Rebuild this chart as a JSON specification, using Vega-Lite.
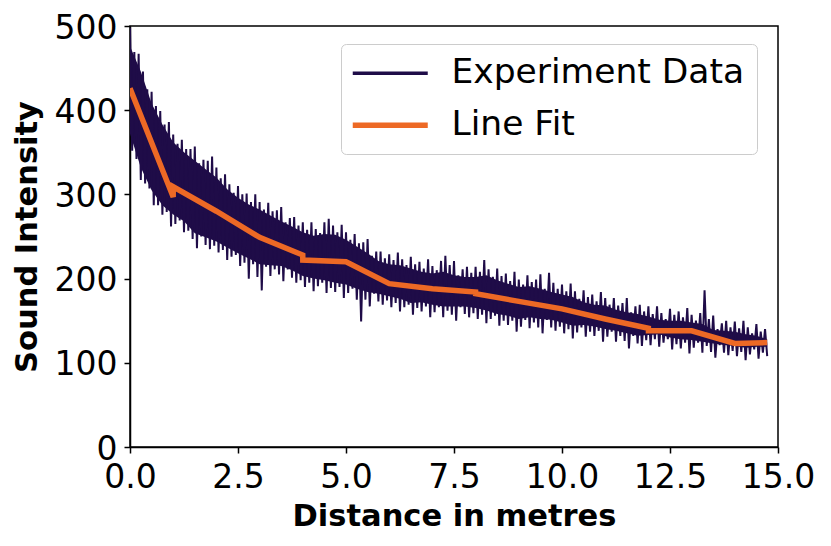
{
  "$schema": "https://vega.github.io/schema/vega-lite/v6.json",
  "width": 648,
  "height": 421,
  "autosize": "none",
  "padding": {"left": 130, "top": 26, "right": 53, "bottom": 99},
  "datasets": {
    "band": [
      {"x": 0, "y": 372, "y2": 476}, {"x": 0.25, "y": 332, "y2": 446}, {"x": 0.5, "y": 305, "y2": 408}, {"x": 0.75, "y": 287, "y2": 383},
      {"x": 1, "y": 276, "y2": 362}, {"x": 1.25, "y": 268, "y2": 350}, {"x": 1.5, "y": 254, "y2": 340}, {"x": 1.75, "y": 249, "y2": 330},
      {"x": 2, "y": 244, "y2": 320}, {"x": 2.25, "y": 237, "y2": 306}, {"x": 2.5, "y": 230, "y2": 296}, {"x": 2.75, "y": 224, "y2": 288},
      {"x": 3, "y": 217, "y2": 282}, {"x": 3.25, "y": 216, "y2": 275}, {"x": 3.5, "y": 215, "y2": 268}, {"x": 3.75, "y": 210, "y2": 262},
      {"x": 4, "y": 203, "y2": 255}, {"x": 4.25, "y": 200, "y2": 251}, {"x": 4.5, "y": 198, "y2": 253}, {"x": 4.75, "y": 195, "y2": 252},
      {"x": 5, "y": 193, "y2": 246}, {"x": 5.25, "y": 188, "y2": 238}, {"x": 5.5, "y": 184, "y2": 230}, {"x": 5.75, "y": 182, "y2": 221},
      {"x": 6, "y": 179, "y2": 217}, {"x": 6.25, "y": 176, "y2": 216}, {"x": 6.5, "y": 171, "y2": 212}, {"x": 6.75, "y": 172, "y2": 208},
      {"x": 7, "y": 169, "y2": 206}, {"x": 7.25, "y": 167, "y2": 208}, {"x": 7.5, "y": 167, "y2": 204}, {"x": 7.75, "y": 167, "y2": 202},
      {"x": 8, "y": 165, "y2": 202}, {"x": 8.25, "y": 162, "y2": 204}, {"x": 8.5, "y": 158, "y2": 198}, {"x": 8.75, "y": 156, "y2": 194},
      {"x": 9, "y": 152, "y2": 190}, {"x": 9.25, "y": 154, "y2": 191}, {"x": 9.5, "y": 152, "y2": 188}, {"x": 9.75, "y": 151, "y2": 184},
      {"x": 10, "y": 148, "y2": 181}, {"x": 10.25, "y": 144, "y2": 178}, {"x": 10.5, "y": 145, "y2": 172}, {"x": 10.75, "y": 143, "y2": 169},
      {"x": 11, "y": 140, "y2": 168}, {"x": 11.25, "y": 138, "y2": 163}, {"x": 11.5, "y": 135, "y2": 160}, {"x": 11.75, "y": 132, "y2": 158},
      {"x": 12, "y": 133, "y2": 155}, {"x": 12.25, "y": 134, "y2": 151}, {"x": 12.5, "y": 130, "y2": 150}, {"x": 12.75, "y": 128, "y2": 150},
      {"x": 13, "y": 127, "y2": 148}, {"x": 13.25, "y": 125, "y2": 146}, {"x": 13.5, "y": 123, "y2": 139}, {"x": 13.75, "y": 121, "y2": 138},
      {"x": 14, "y": 120, "y2": 137}, {"x": 14.25, "y": 118, "y2": 134}, {"x": 14.5, "y": 119, "y2": 132}, {"x": 14.75, "y": 119, "y2": 128}
    ],
    "exp": [
      {"x": 0, "y": 498}, {"x": 0.05, "y": 352}, {"x": 0.1, "y": 469}, {"x": 0.15, "y": 342}, {"x": 0.2, "y": 467}, {"x": 0.25, "y": 317}, {"x": 0.3, "y": 446}, {"x": 0.35, "y": 313}, {"x": 0.4, "y": 425}, {"x": 0.45, "y": 307},
      {"x": 0.5, "y": 422}, {"x": 0.55, "y": 287}, {"x": 0.6, "y": 405}, {"x": 0.65, "y": 287}, {"x": 0.7, "y": 399}, {"x": 0.75, "y": 276}, {"x": 0.8, "y": 383}, {"x": 0.85, "y": 279}, {"x": 0.9, "y": 386}, {"x": 0.95, "y": 262},
      {"x": 1, "y": 371}, {"x": 1.05, "y": 265}, {"x": 1.1, "y": 360}, {"x": 1.15, "y": 269}, {"x": 1.2, "y": 365}, {"x": 1.25, "y": 255}, {"x": 1.3, "y": 354}, {"x": 1.35, "y": 257}, {"x": 1.4, "y": 354}, {"x": 1.45, "y": 247},
      {"x": 1.5, "y": 357}, {"x": 1.55, "y": 236}, {"x": 1.6, "y": 337}, {"x": 1.65, "y": 250}, {"x": 1.7, "y": 341}, {"x": 1.75, "y": 240}, {"x": 1.8, "y": 340}, {"x": 1.85, "y": 235}, {"x": 1.9, "y": 345}, {"x": 1.95, "y": 239},
      {"x": 2, "y": 332}, {"x": 2.05, "y": 231}, {"x": 2.1, "y": 319}, {"x": 2.15, "y": 234}, {"x": 2.2, "y": 324}, {"x": 2.25, "y": 222}, {"x": 2.3, "y": 312}, {"x": 2.35, "y": 226}, {"x": 2.4, "y": 302}, {"x": 2.45, "y": 228},
      {"x": 2.5, "y": 310}, {"x": 2.55, "y": 215}, {"x": 2.6, "y": 300}, {"x": 2.65, "y": 219}, {"x": 2.7, "y": 301}, {"x": 2.75, "y": 200}, {"x": 2.8, "y": 291}, {"x": 2.85, "y": 217}, {"x": 2.9, "y": 300}, {"x": 2.95, "y": 202},
      {"x": 3, "y": 291}, {"x": 3.05, "y": 186}, {"x": 3.1, "y": 282}, {"x": 3.15, "y": 214}, {"x": 3.2, "y": 290}, {"x": 3.25, "y": 203}, {"x": 3.3, "y": 280}, {"x": 3.35, "y": 211}, {"x": 3.4, "y": 281}, {"x": 3.45, "y": 205},
      {"x": 3.5, "y": 285}, {"x": 3.55, "y": 197}, {"x": 3.6, "y": 267}, {"x": 3.65, "y": 211}, {"x": 3.7, "y": 272}, {"x": 3.75, "y": 201}, {"x": 3.8, "y": 273}, {"x": 3.85, "y": 195}, {"x": 3.9, "y": 263}, {"x": 3.95, "y": 198},
      {"x": 4, "y": 267}, {"x": 4.05, "y": 190}, {"x": 4.1, "y": 258}, {"x": 4.15, "y": 195}, {"x": 4.2, "y": 267}, {"x": 4.25, "y": 185}, {"x": 4.3, "y": 259}, {"x": 4.35, "y": 191}, {"x": 4.4, "y": 254}, {"x": 4.45, "y": 195},
      {"x": 4.5, "y": 267}, {"x": 4.55, "y": 183}, {"x": 4.6, "y": 271}, {"x": 4.65, "y": 189}, {"x": 4.7, "y": 263}, {"x": 4.75, "y": 184}, {"x": 4.8, "y": 255}, {"x": 4.85, "y": 190}, {"x": 4.9, "y": 264}, {"x": 4.95, "y": 177},
      {"x": 5, "y": 255}, {"x": 5.05, "y": 183}, {"x": 5.1, "y": 246}, {"x": 5.15, "y": 188}, {"x": 5.2, "y": 253}, {"x": 5.25, "y": 175}, {"x": 5.3, "y": 242}, {"x": 5.35, "y": 149}, {"x": 5.4, "y": 243}, {"x": 5.45, "y": 175},
      {"x": 5.5, "y": 247}, {"x": 5.55, "y": 167}, {"x": 5.6, "y": 227}, {"x": 5.65, "y": 182}, {"x": 5.7, "y": 232}, {"x": 5.75, "y": 173}, {"x": 5.8, "y": 232}, {"x": 5.85, "y": 169}, {"x": 5.9, "y": 224}, {"x": 5.95, "y": 174},
      {"x": 6, "y": 229}, {"x": 6.05, "y": 166}, {"x": 6.1, "y": 222}, {"x": 6.15, "y": 171}, {"x": 6.2, "y": 231}, {"x": 6.25, "y": 161}, {"x": 6.3, "y": 223}, {"x": 6.35, "y": 166}, {"x": 6.4, "y": 216}, {"x": 6.45, "y": 169},
      {"x": 6.5, "y": 226}, {"x": 6.55, "y": 157}, {"x": 6.6, "y": 217}, {"x": 6.65, "y": 165}, {"x": 6.7, "y": 220}, {"x": 6.75, "y": 161}, {"x": 6.8, "y": 212}, {"x": 6.85, "y": 167}, {"x": 6.9, "y": 223}, {"x": 6.95, "y": 154},
      {"x": 7, "y": 215}, {"x": 7.05, "y": 160}, {"x": 7.1, "y": 210}, {"x": 7.15, "y": 166}, {"x": 7.2, "y": 221}, {"x": 7.25, "y": 154}, {"x": 7.3, "y": 227}, {"x": 7.35, "y": 162}, {"x": 7.4, "y": 216}, {"x": 7.45, "y": 157},
      {"x": 7.5, "y": 221}, {"x": 7.55, "y": 150}, {"x": 7.6, "y": 204}, {"x": 7.65, "y": 166}, {"x": 7.7, "y": 211}, {"x": 7.75, "y": 158}, {"x": 7.8, "y": 214}, {"x": 7.85, "y": 154}, {"x": 7.9, "y": 207}, {"x": 7.95, "y": 159},
      {"x": 8, "y": 214}, {"x": 8.05, "y": 152}, {"x": 8.1, "y": 208}, {"x": 8.15, "y": 157}, {"x": 8.2, "y": 222}, {"x": 8.25, "y": 147}, {"x": 8.3, "y": 211}, {"x": 8.35, "y": 152}, {"x": 8.4, "y": 202}, {"x": 8.45, "y": 156},
      {"x": 8.5, "y": 212}, {"x": 8.55, "y": 144}, {"x": 8.6, "y": 203}, {"x": 8.65, "y": 150}, {"x": 8.7, "y": 206}, {"x": 8.75, "y": 145}, {"x": 8.8, "y": 197}, {"x": 8.85, "y": 150}, {"x": 8.9, "y": 208}, {"x": 8.95, "y": 137},
      {"x": 9, "y": 199}, {"x": 9.05, "y": 143}, {"x": 9.1, "y": 193}, {"x": 9.15, "y": 151}, {"x": 9.2, "y": 204}, {"x": 9.25, "y": 141}, {"x": 9.3, "y": 196}, {"x": 9.35, "y": 148}, {"x": 9.4, "y": 199}, {"x": 9.45, "y": 142},
      {"x": 9.5, "y": 205}, {"x": 9.55, "y": 135}, {"x": 9.6, "y": 188}, {"x": 9.65, "y": 151}, {"x": 9.7, "y": 207}, {"x": 9.75, "y": 142}, {"x": 9.8, "y": 195}, {"x": 9.85, "y": 138}, {"x": 9.9, "y": 188}, {"x": 9.95, "y": 143},
      {"x": 10, "y": 193}, {"x": 10.05, "y": 135}, {"x": 10.1, "y": 185}, {"x": 10.15, "y": 140}, {"x": 10.2, "y": 194}, {"x": 10.25, "y": 129}, {"x": 10.3, "y": 185}, {"x": 10.35, "y": 136}, {"x": 10.4, "y": 176}, {"x": 10.45, "y": 142},
      {"x": 10.5, "y": 186}, {"x": 10.55, "y": 131}, {"x": 10.6, "y": 178}, {"x": 10.65, "y": 137}, {"x": 10.7, "y": 181}, {"x": 10.75, "y": 132}, {"x": 10.8, "y": 173}, {"x": 10.85, "y": 138}, {"x": 10.9, "y": 184}, {"x": 10.95, "y": 125},
      {"x": 11, "y": 177}, {"x": 11.05, "y": 131}, {"x": 11.1, "y": 169}, {"x": 11.15, "y": 137}, {"x": 11.2, "y": 177}, {"x": 11.25, "y": 125}, {"x": 11.3, "y": 168}, {"x": 11.35, "y": 132}, {"x": 11.4, "y": 171}, {"x": 11.45, "y": 126},
      {"x": 11.5, "y": 177}, {"x": 11.55, "y": 117}, {"x": 11.6, "y": 160}, {"x": 11.65, "y": 132}, {"x": 11.7, "y": 167}, {"x": 11.75, "y": 123}, {"x": 11.8, "y": 169}, {"x": 11.85, "y": 120}, {"x": 11.9, "y": 161}, {"x": 11.95, "y": 127},
      {"x": 12, "y": 167}, {"x": 12.05, "y": 121}, {"x": 12.1, "y": 158}, {"x": 12.15, "y": 128}, {"x": 12.2, "y": 167}, {"x": 12.25, "y": 119}, {"x": 12.3, "y": 159}, {"x": 12.35, "y": 124}, {"x": 12.4, "y": 152}, {"x": 12.45, "y": 128},
      {"x": 12.5, "y": 164}, {"x": 12.55, "y": 116}, {"x": 12.6, "y": 157}, {"x": 12.65, "y": 122}, {"x": 12.7, "y": 161}, {"x": 12.75, "y": 117}, {"x": 12.8, "y": 154}, {"x": 12.85, "y": 124}, {"x": 12.9, "y": 165}, {"x": 12.95, "y": 111},
      {"x": 13, "y": 157}, {"x": 13.05, "y": 118}, {"x": 13.1, "y": 150}, {"x": 13.15, "y": 124}, {"x": 13.2, "y": 159}, {"x": 13.25, "y": 112}, {"x": 13.3, "y": 186}, {"x": 13.35, "y": 120}, {"x": 13.4, "y": 152}, {"x": 13.45, "y": 113},
      {"x": 13.5, "y": 156}, {"x": 13.55, "y": 106}, {"x": 13.6, "y": 140}, {"x": 13.65, "y": 121}, {"x": 13.7, "y": 147}, {"x": 13.75, "y": 112}, {"x": 13.8, "y": 150}, {"x": 13.85, "y": 109}, {"x": 13.9, "y": 142}, {"x": 13.95, "y": 114},
      {"x": 14, "y": 149}, {"x": 14.05, "y": 108}, {"x": 14.1, "y": 141}, {"x": 14.15, "y": 113}, {"x": 14.2, "y": 150}, {"x": 14.25, "y": 103}, {"x": 14.3, "y": 142}, {"x": 14.35, "y": 110}, {"x": 14.4, "y": 135}, {"x": 14.45, "y": 116},
      {"x": 14.5, "y": 146}, {"x": 14.55, "y": 105}, {"x": 14.6, "y": 137}, {"x": 14.65, "y": 112}, {"x": 14.7, "y": 140}, {"x": 14.75, "y": 108}
    ],
    "fit": [
      {"x": 0, "y": 426}, {"x": 1, "y": 297}, {"x": 1.001, "y": 309}, {"x": 2, "y": 280}, {"x": 3, "y": 249},
      {"x": 3.999, "y": 228}, {"x": 4, "y": 222}, {"x": 5, "y": 220}, {"x": 6, "y": 194}, {"x": 7, "y": 188},
      {"x": 8, "y": 184}, {"x": 8.001, "y": 182}, {"x": 9, "y": 173}, {"x": 10, "y": 164}, {"x": 11, "y": 152},
      {"x": 12, "y": 141}, {"x": 12.001, "y": 138}, {"x": 13, "y": 138}, {"x": 14, "y": 123}, {"x": 14.75, "y": 124}
    ]
  },
  "encoding": {
    "x": {
      "field": "x", "type": "quantitative",
      "scale": {"domain": [0, 15], "nice": false, "zero": false},
      "axis": {
        "title": "Distance in metres",
        "values": [0, 2.5, 5, 7.5, 10, 12.5, 15],
        "format": ".1f",
        "labelPadding": 8,
        "titleX": 324, "titleY": 78, "titleBaseline": "alphabetic", "titleAlign": "center"
      }
    },
    "y": {
      "field": "y", "type": "quantitative",
      "scale": {"domain": [0, 500], "nice": false},
      "axis": {
        "title": "Sound Intensity",
        "values": [0, 100, 200, 300, 400, 500],
        "labelPadding": 7,
        "labelOffset": 2,
        "titleX": -94, "titleY": 210.5, "titleAngle": -90, "titleBaseline": "alphabetic", "titleAlign": "center"
      }
    }
  },
  "layer": [
    {
      "data": {"name": "band"},
      "mark": {"type": "area", "color": "#1f0c48", "clip": true},
      "encoding": {"y2": {"field": "y2"}}
    },
    {
      "data": {"name": "exp"},
      "mark": {"type": "line", "strokeWidth": 2, "clip": true},
      "encoding": {
        "color": {
          "datum": "Experiment Data", "type": "nominal",
          "scale": {"domain": ["Experiment Data", "Line Fit"], "range": ["#1f0c48", "#ed6925"]},
          "legend": {
            "title": null,
            "orient": "none", "legendX": 211, "legendY": 18,
            "symbolType": "stroke", "symbolSize": 5625, "symbolStrokeWidth": 3.3, "symbolOffset": 20,
            "labelFontSize": 34.5, "labelOffset": 44, "labelLimit": 500, "rowPadding": 17, "padding": 12,
            "fillColor": "white", "strokeColor": "#cccccc", "cornerRadius": 5,
            "encode": {"symbols": {"update": {"strokeWidth": {"signal": "datum.value === 'Line Fit' ? 5.5 : 3.3"}}}}
          }
        }
      }
    },
    {
      "data": {"name": "fit"},
      "mark": {"type": "line", "strokeWidth": 5.5, "clip": true},
      "encoding": {
        "color": {
          "datum": "Line Fit", "type": "nominal",
          "scale": {"domain": ["Experiment Data", "Line Fit"], "range": ["#1f0c48", "#ed6925"]}
        }
      }
    }
  ],
  "config": {
    "font": "DejaVu Sans",
    "view": {"stroke": "black", "strokeWidth": 1.5},
    "axis": {
      "grid": false,
      "domainColor": "black", "domainWidth": 1.5,
      "tickColor": "black", "tickWidth": 1.5, "tickSize": 6,
      "labelColor": "black", "labelFont": "DejaVu Sans", "labelFontSize": 33,
      "labelOverlap": false, "labelFlush": false, "labelBound": false,
      "titleColor": "black", "titleFont": "DejaVu Sans", "titleFontSize": 30.5, "titleFontWeight": "bold"
    },
    "legend": {"labelColor": "black", "labelFont": "DejaVu Sans"}
  }
}
